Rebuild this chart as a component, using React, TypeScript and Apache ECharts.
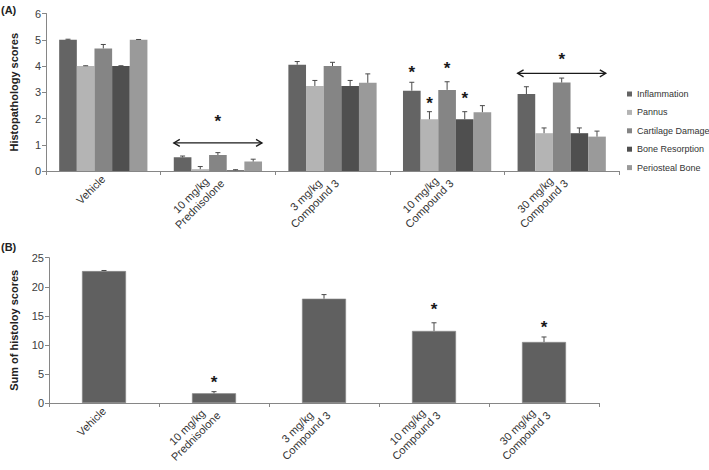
import React, { useEffect, useRef } from 'react';
import * as echarts from 'echarts';

const groups = ['Vehicle', '10 mg/kg\nPrednisolone', '3 mg/kg\nCompound 3', '10 mg/kg\nCompound 3', '30 mg/kg\nCompound 3'];
const seriesNames = ['Inflammation', 'Pannus', 'Cartilage Damage', 'Bone Resorption', 'Periosteal Bone'];

const inflammation = [5.0, 0.52, 4.05, 3.06, 2.93];
const inflammationErr = [0.02, 0.05, 0.12, 0.32, 0.28];
const pannus = [4.0, 0.07, 3.24, 1.97, 1.44];
const pannusErr = [0.01, 0.1, 0.21, 0.29, 0.2];
const cartilage = [4.67, 0.61, 4.0, 3.09, 3.37];
const cartilageErr = [0.15, 0.09, 0.14, 0.31, 0.17];
const boneResorption = [4.0, 0.03, 3.24, 1.97, 1.44];
const boneResorptionErr = [0.01, 0.02, 0.21, 0.29, 0.2];
const periosteal = [5.0, 0.36, 3.36, 2.24, 1.31];
const periostealErr = [0.01, 0.09, 0.34, 0.25, 0.21];

const starCategoryA = [1, 3, 3, 3, 3, 4];
const starBarA = [-1, 0, 1, 2, 3, -1];
const starValueA = [1.98, 3.82, 2.64, 4.0, 2.83, 4.33];
const arrowCategoryA = [1, 4];
const arrowValueA = [1.07, 3.72];

const sumScores = [22.7, 1.67, 17.95, 12.4, 10.5];
const sumErr = [0.1, 0.28, 0.7, 1.4, 0.86];
const starCategoryB = [1, 3, 4];
const starValueB = [3.8, 16.5, 13.3];

const yTicksA = [0, 1, 2, 3, 4, 5, 6];
const yTicksB = [0, 5, 10, 15, 20, 25];

const FONT = 'Liberation Sans';
const colors = ['#646464', '#b4b4b4', '#858585', '#4f4f4f', '#9a9a9a'];
const GAP = 0.23;
const axisColor = '#868686';
const STAR_SHIFT = 2;

export default function App() {
  const ref = useRef<HTMLDivElement>(null);
  useEffect(() => {
    document.body.style.margin = '0';
    const chart = echarts.init(ref.current!, null, { renderer: 'svg' });
    const values = [inflammation, pannus, cartilage, boneResorption, periosteal];
    const errs = [inflammationErr, pannusErr, cartilageErr, boneResorptionErr, periostealErr];

    const labelFormatter = (v: string) =>
      v.includes('\n') ? v.split('\n').map((l) => `{c|${l}}`).join('\n') : v;
    const xLabel = {
      rotate: 45,
      margin: 6,
      fontSize: 11,
      color: '#333',
      fontFamily: FONT,
      interval: 0,
      formatter: labelFormatter,
      rich: { c: { align: 'center', fontSize: 11, color: '#333', fontFamily: FONT, lineHeight: 12.5 } },
    };
    const yLabel = { fontSize: 11, color: '#404040', fontFamily: FONT, margin: 5 };
    const axisLine = { show: true, lineStyle: { color: axisColor, width: 1 } };
    const axisTick = { show: true, inside: false, length: 4, lineStyle: { color: axisColor } };

    const errData: number[][] = [];
    values.forEach((arr, si) => arr.forEach((v, ci) => errData.push([ci, v, errs[si][ci], si])));

    const starRender = (stroke: string) => (params: any, api: any) => {
      const c = api.coord([api.value(0), api.value(1)]);
      const band = api.size([1, 0])[0];
      const bi = api.value(2);
      const bw = (band * (1 - GAP)) / 5;
      const x = bi < 0 ? c[0] : c[0] + (bi - 2) * bw;
      return {
        type: 'text',
        x,
        y: c[1] + STAR_SHIFT,
        style: { text: '*', fontSize: 17, fontWeight: 'bold', fill: stroke, align: 'center', verticalAlign: 'middle', fontFamily: FONT },
      };
    };

    const option: any = {
      animation: false,
      graphic: [
        { type: 'text', left: 1, top: 4, style: { text: '(A)', fontSize: 11, fontWeight: 'bold', fill: '#222', fontFamily: FONT } },
        { type: 'text', left: 1, top: 241, style: { text: '(B)', fontSize: 11, fontWeight: 'bold', fill: '#222', fontFamily: FONT } },
      ],
      legend: {
        data: seriesNames,
        orient: 'vertical',
        left: 627,
        top: 87,
        padding: 0,
        itemWidth: 5,
        itemHeight: 5,
        itemGap: 4.4,
        icon: 'rect',
        textStyle: { fontSize: 9, color: '#333', fontFamily: FONT, lineHeight: 14 },
      },
      grid: [
        { left: 42, top: 13.5, width: 577, height: 157.5, containLabel: false },
        { left: 41, top: 257.7, width: 558, height: 145.3, containLabel: false },
      ],
      xAxis: [
        { type: 'category', gridIndex: 0, data: groups, axisLine, axisTick, axisLabel: xLabel, splitLine: { show: false } },
        { type: 'category', gridIndex: 1, data: groups, axisLine, axisTick, axisLabel: xLabel, splitLine: { show: false } },
      ],
      yAxis: [
        {
          type: 'value', gridIndex: 0, min: yTicksA[0], max: yTicksA[yTicksA.length - 1], interval: 1,
          axisLine, axisTick, axisLabel: yLabel, splitLine: { show: false },
          name: 'Histopathology scores', nameLocation: 'middle', nameGap: 27,
          nameTextStyle: { fontSize: 11, fontWeight: 'bold', color: '#222', fontFamily: FONT },
        },
        {
          type: 'value', gridIndex: 1, min: yTicksB[0], max: yTicksB[yTicksB.length - 1], interval: 5,
          axisLine, axisTick, axisLabel: yLabel, splitLine: { show: false },
          name: 'Sum of histoloy scores', nameLocation: 'middle', nameGap: 30,
          nameTextStyle: { fontSize: 11, fontWeight: 'bold', color: '#222', fontFamily: FONT },
        },
      ],
      series: [
        ...seriesNames.map((name, i) => ({
          name,
          type: 'bar',
          xAxisIndex: 0,
          yAxisIndex: 0,
          data: values[i],
          barGap: '0%',
          barCategoryGap: `${GAP * 100}%`,
          itemStyle: { color: colors[i] },
        })),
        {
          type: 'custom',
          xAxisIndex: 0,
          yAxisIndex: 0,
          data: errData,
          z: 5,
          renderItem: (params: any, api: any) => {
            const cat = api.value(0);
            const v = api.value(1);
            const e = api.value(2);
            const bi = api.value(3);
            const base = api.coord([cat, v]);
            const top = api.coord([cat, v + e]);
            const band = api.size([1, 0])[0];
            const bw = (band * (1 - GAP)) / 5;
            const x = base[0] + (bi - 2) * bw;
            const st = { stroke: '#4a4a4a', lineWidth: 1 };
            return {
              type: 'group',
              children: [
                { type: 'line', shape: { x1: x, y1: base[1], x2: x, y2: top[1] }, style: st },
                { type: 'line', shape: { x1: x - 2.5, y1: top[1], x2: x + 2.5, y2: top[1] }, style: st },
              ],
            };
          },
        },
        {
          type: 'custom',
          xAxisIndex: 0,
          yAxisIndex: 0,
          data: starCategoryA.map((c, i) => [c, starValueA[i], starBarA[i]]),
          z: 6,
          renderItem: starRender('#1a1a1a'),
        },
        {
          type: 'custom',
          xAxisIndex: 0,
          yAxisIndex: 0,
          data: arrowCategoryA.map((c, i) => [c, arrowValueA[i]]),
          z: 6,
          renderItem: (params: any, api: any) => {
            const c = api.coord([api.value(0), api.value(1)]);
            const band = api.size([1, 0])[0];
            const half = (band * (1 - GAP)) / 2;
            const x1 = c[0] - half;
            const x2 = c[0] + half;
            const y = c[1];
            const st = { stroke: '#1a1a1a', lineWidth: 1.3, fill: 'none' };
            return {
              type: 'group',
              children: [
                { type: 'line', shape: { x1, y1: y, x2, y2: y }, style: st },
                { type: 'polyline', shape: { points: [[x1 + 6, y - 3.5], [x1, y], [x1 + 6, y + 3.5]] }, style: st },
                { type: 'polyline', shape: { points: [[x2 - 6, y - 3.5], [x2, y], [x2 - 6, y + 3.5]] }, style: st },
              ],
            };
          },
        },
        {
          name: 'Sum',
          type: 'bar',
          xAxisIndex: 1,
          yAxisIndex: 1,
          data: sumScores,
          barWidth: '40%',
          itemStyle: { color: '#606060', borderColor: '#8a8a8a', borderWidth: 0.6 },
        },
        {
          type: 'custom',
          xAxisIndex: 1,
          yAxisIndex: 1,
          data: sumScores.map((v, i) => [i, v, sumErr[i]]),
          z: 5,
          renderItem: (params: any, api: any) => {
            const cat = api.value(0);
            const v = api.value(1);
            const e = api.value(2);
            const base = api.coord([cat, v]);
            const top = api.coord([cat, v + e]);
            const x = base[0];
            const st = { stroke: '#4a4a4a', lineWidth: 1 };
            return {
              type: 'group',
              children: [
                { type: 'line', shape: { x1: x, y1: base[1], x2: x, y2: top[1] }, style: st },
                { type: 'line', shape: { x1: x - 2.5, y1: top[1], x2: x + 2.5, y2: top[1] }, style: st },
              ],
            };
          },
        },
        {
          type: 'custom',
          xAxisIndex: 1,
          yAxisIndex: 1,
          data: starCategoryB.map((c, i) => [c, starValueB[i], -1]),
          z: 6,
          renderItem: starRender('#1a1a1a'),
        },
      ],
    };
    chart.setOption(option);
    return () => chart.dispose();
  }, []);
  return <div ref={ref} style={{ width: 709, height: 470 }} />;
}
